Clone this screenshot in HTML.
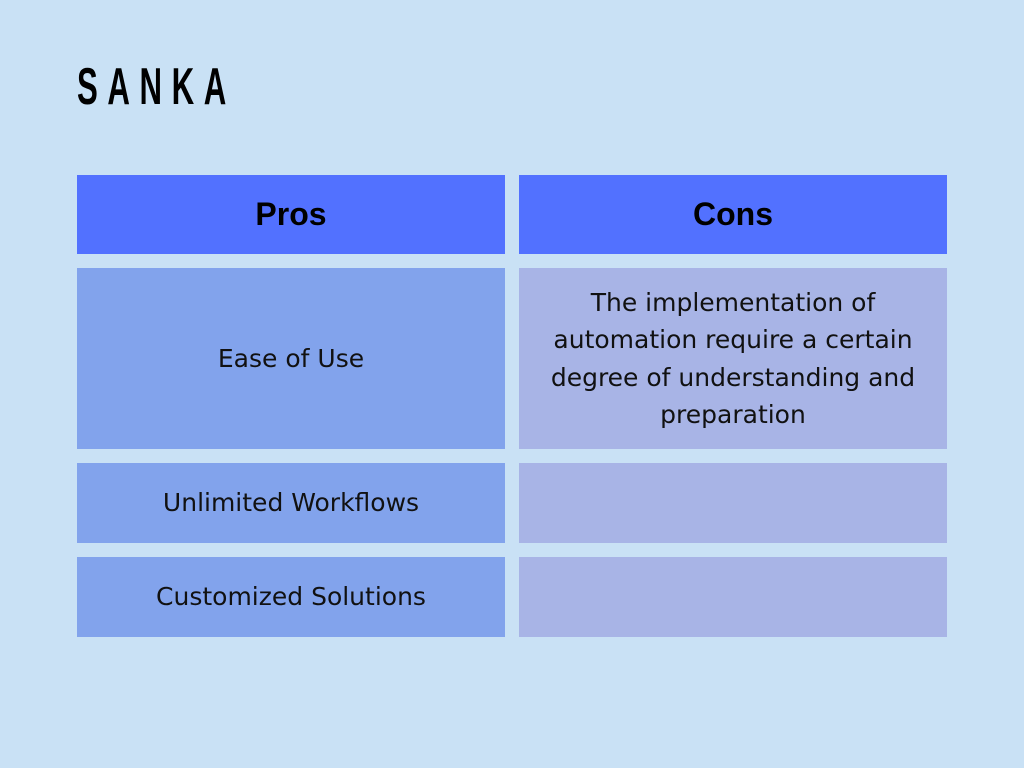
<!DOCTYPE html>
<html><head><style>
body{margin:0;width:1024px;height:768px;background:#c9e1f5;position:relative;overflow:hidden;font-family:"Liberation Sans",sans-serif;}
.logo{position:absolute;left:77px;top:56px;font-size:52px;font-weight:bold;letter-spacing:16px;transform:scaleX(0.6);transform-origin:0 0;color:#000;line-height:62px;white-space:nowrap}
.c{position:absolute;display:flex;align-items:center;justify-content:center;text-align:center;color:#111;font-family:"DejaVu Sans",sans-serif;font-size:25px;line-height:37.5px}
.h{background:#5271ff;font-family:"Liberation Sans",sans-serif;font-weight:bold;font-size:32px;color:#000}
.l{background:#82a3ec}
.r{background:#a8b4e6}
</style></head><body>
<div class="logo">SANKA</div>
<div class="c h" style="left:77px;top:175px;width:428px;height:79px">Pros</div>
<div class="c h" style="left:519px;top:175px;width:428px;height:79px">Cons</div>
<div class="c l" style="left:77px;top:268px;width:428px;height:181px">Ease of Use</div>
<div class="c r" style="left:519px;top:268px;width:428px;height:181px"><div style="width:410px">The implementation of automation require a certain degree of understanding and preparation</div></div>
<div class="c l" style="left:77px;top:463px;width:428px;height:80px">Unlimited Workflows</div>
<div class="c r" style="left:519px;top:463px;width:428px;height:80px"></div>
<div class="c l" style="left:77px;top:557px;width:428px;height:80px">Customized Solutions</div>
<div class="c r" style="left:519px;top:557px;width:428px;height:80px"></div>
</body></html>
